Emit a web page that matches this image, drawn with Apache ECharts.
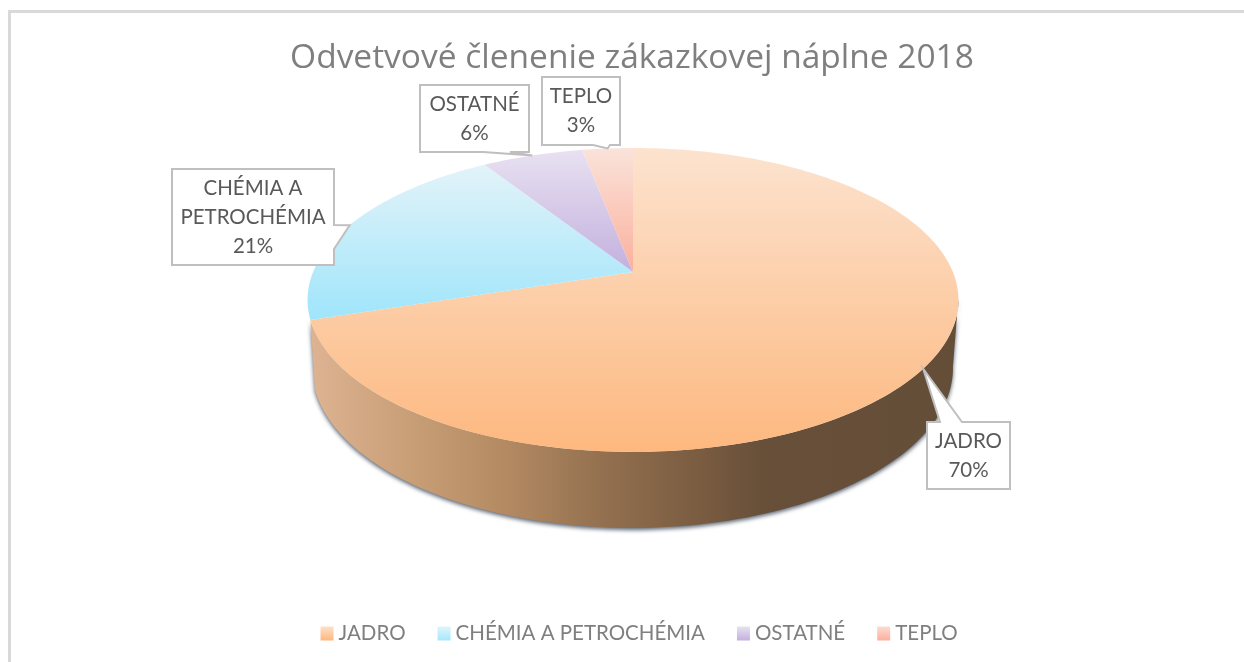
<!DOCTYPE html>
<html><head><meta charset="utf-8">
<style>html,body{margin:0;padding:0;background:#fff}#c{width:1244px;height:662px}</style>
<script src="https://cdn.jsdelivr.net/npm/echarts@6/dist/echarts.min.js"></script>
</head><body><div id="c"></div>
<script>
// ---- data ----
const titleText = 'Odvetvové členenie zákazkovej náplne 2018';
const categories = ['JADRO', 'CHÉMIA A PETROCHÉMIA', 'OSTATNÉ', 'TEPLO'];
const calloutNames = ['JADRO', 'CHÉMIA A\nPETROCHÉMIA', 'OSTATNÉ', 'TEPLO'];
const values = [70, 21, 6, 3];

// ---- styling / layout ----
const FONT = 'Lato';
const topStops = [
  ['#fce3cf', '#fdb87f'],
  ['#e3f3f9', '#9fe5fb'],
  ['#e8e1f1', '#c3b0de'],
  ['#fae3da', '#fbb09d']
];
const legendStops = [
  ['#fee0c8', '#fdb87f'],
  ['#dff5fb', '#a5e8fc'],
  ['#e8e1f1', '#c3b0de'],
  ['#fbdcd2', '#fbb09d']
];
const topDisc = { cx: 633, cy: 272, A: 319.9, B: 146.8, k: 0.184 };
const bottomDisc = { cx: 632.5, cy: 338.6, A: 315, B: 154.5, k: 0.184 };
const frontArc = [100, 252];
const calloutLayout = [
  { box: [927, 422, 1010, 489], side: 'top', base: [940, 962] },
  { box: [172, 169, 334, 265], side: 'right', base: [225, 249] },
  { box: [420, 85, 529, 152], side: 'bottom', base: [483, 510] },
  { box: [542, 77, 620, 145], side: 'bottom', base: [593, 610] }
];
const lg = (stops, x2, y2) => new echarts.graphic.LinearGradient(0, 0, x2, y2,
  stops.map((c, i) => ({ offset: stops.length > 1 ? i / (stops.length - 1) : 0, color: c })));
const wallFills = [
  () => new echarts.graphic.LinearGradient(0, 0, 1, 0, [
    { offset: 0, color: '#deb392' }, { offset: 0.15, color: '#c99f78' },
    { offset: 0.3, color: '#b48a63' }, { offset: 0.45, color: '#93704f' },
    { offset: 0.6, color: '#7a5c41' }, { offset: 0.7, color: '#674f39' },
    { offset: 1, color: '#654e38' }])
];

const total = values.reduce((a, b) => a + b, 0);
function project(d, deg) {
  const t = deg * Math.PI / 180, w = 1 + d.k * Math.cos(t);
  return [d.cx + d.A * Math.sin(t) / w, d.cy - d.B * Math.cos(t) / w];
}
function arc(d, a0, a1) {
  const n = Math.max(2, Math.ceil(Math.abs(a1 - a0) / 1.5)), p = [];
  for (let i = 0; i <= n; i++) p.push(project(d, a0 + (a1 - a0) * i / n));
  return p;
}
function calloutShape(l, tip) {
  const [x0, y0, x1, y1] = l.box, b = l.base;
  if (l.side === 'top') return [[x0, y0], [b[0], y0], tip, [b[1], y0], [x1, y0], [x1, y1], [x0, y1]];
  if (l.side === 'right') return [[x0, y0], [x1, y0], [x1, b[0]], tip, [x1, b[1]], [x1, y1], [x0, y1]];
  return [[x0, y0], [x1, y0], [x1, y1], [b[1], y1], tip, [b[0], y1], [x0, y1]];
}
function makeRender(i) {
  return function (params, api) {
    const a0 = api.value(0) / total * 360, a1 = api.value(1) / total * 360;
    const children = [];
    const f0 = Math.max(a0, frontArc[0]), f1 = Math.min(a1, frontArc[1]);
    if (f1 > f0 && wallFills[i]) {
      children.push({
        type: 'polygon',
        shape: { points: arc(topDisc, f0, f1).concat(arc(bottomDisc, f1, f0)) },
        style: { fill: wallFills[i](), shadowBlur: 4, shadowColor: 'rgba(60,72,88,0.85)', shadowOffsetY: 2 }
      });
    }
    children.push({
      type: 'polygon',
      shape: { points: [[topDisc.cx, topDisc.cy]].concat(arc(topDisc, a0, a1)) },
      style: { fill: lg(topStops[i], 0, 1) }
    });
    const l = calloutLayout[i];
    children.push({
      type: 'polygon',
      shape: { points: calloutShape(l, project(topDisc, (a0 + a1) / 2)) },
      style: { fill: '#fff', stroke: '#bfbfbf', lineWidth: 2, lineJoin: 'miter' }
    });
    children.push({
      type: 'text',
      style: {
        x: (l.box[0] + l.box[2]) / 2, y: (l.box[1] + l.box[3]) / 2,
        text: calloutNames[i] + '\n' + Math.round(values[i] / total * 100) + '%',
        fill: '#595959', font: '20.5px ' + FONT, align: 'center', verticalAlign: 'middle', lineHeight: 29
      }
    });
    return { type: 'group', children };
  };
}
let acc = 0;
const series = categories.map((name, i) => {
  const s = acc; acc += values[i];
  return { type: 'custom', name, coordinateSystem: 'none', silent: true,
    renderItem: makeRender(i), data: [[s, acc]], itemStyle: { color: topStops[i][1] } };
});

const chart = echarts.init(document.getElementById('c'), null, { renderer: 'canvas' });
chart.setOption({
  animation: false,
  backgroundColor: '#fff',
  title: {
    text: titleText, left: 627, top: 36, textAlign: 'center',
    textStyle: { fontFamily: 'Open Sans', fontWeight: 400, fontSize: 33.5, color: '#7f7f7f' }
  },
  legend: {
    left: 315.5, top: 618, itemWidth: 13, itemHeight: 14, itemGap: 32, selectedMode: false,
    textStyle: { fontFamily: FONT, fontSize: 20.5, color: '#7f7f7f' },
    data: categories.map((name, i) => ({ name, icon: 'rect', itemStyle: { color: lg(legendStops[i], 0, 1) } }))
  },
  graphic: [
    { type: 'line', shape: { x1: 9.5, y1: 11.5, x2: 9.5, y2: 662 }, style: { stroke: '#d9d9d9', lineWidth: 3 } },
    { type: 'line', shape: { x1: 8, y1: 11.5, x2: 1244, y2: 11.5 }, style: { stroke: '#d9d9d9', lineWidth: 3 } }
  ],
  series
});
</script></body></html>
